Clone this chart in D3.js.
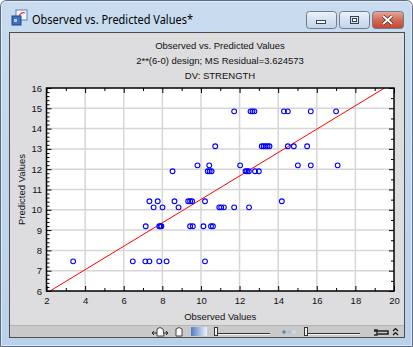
<!DOCTYPE html>
<html><head><meta charset="utf-8">
<script src="https://cdn.jsdelivr.net/npm/d3@7"></script>
<style>body{margin:0;background:#fff;overflow:hidden}svg{display:block}</style>
</head><body>
<script>
// ---- data ----
const windowTitle = "Observed vs. Predicted Values*";
const titleLines = ["Observed vs. Predicted Values", "2**(6-0) design; MS Residual=3.624573", "DV: STRENGTH"];
const xLabel = "Observed Values";
const yLabel = "Predicted Values";
const xTicks = [2, 4, 6, 8, 10, 12, 14, 16, 18, 20];
const yTicks = [6, 7, 8, 9, 10, 11, 12, 13, 14, 15, 16];
const observed = [
  11.72, 12.57, 12.67, 12.77, 14.30, 14.50, 15.69, 17.00,
  10.74, 13.15, 13.25, 13.35, 13.45, 13.55, 14.50, 14.81, 15.50,
  9.82, 10.43, 12.03, 15.02, 15.69, 17.08,
  8.53, 10.35, 10.45, 10.55, 12.31, 12.39, 12.48, 12.80, 13.00,
  7.33, 7.76, 8.63, 9.34, 9.44, 9.54, 10.21, 14.19,
  7.55, 8.01, 8.84, 10.95, 11.05, 11.19, 11.72, 12.49,
  7.14, 7.84, 7.90, 7.95, 9.44, 9.58, 10.13, 10.52, 10.62,
  3.38, 6.47, 7.12, 7.33, 7.84, 8.22, 10.21
];
const predicted = [
  14.85, 14.85, 14.85, 14.85, 14.85, 14.85, 14.85, 14.85,
  13.13, 13.13, 13.13, 13.13, 13.13, 13.13, 13.13, 13.13, 13.13,
  12.19, 12.19, 12.19, 12.19, 12.19, 12.19,
  11.90, 11.90, 11.90, 11.90, 11.90, 11.90, 11.90, 11.90, 11.90,
  10.42, 10.42, 10.42, 10.42, 10.42, 10.42, 10.42, 10.42,
  10.12, 10.12, 10.12, 10.12, 10.12, 10.12, 10.12, 10.12,
  9.19, 9.19, 9.19, 9.19, 9.19, 9.19, 9.19, 9.19, 9.19,
  7.46, 7.46, 7.46, 7.46, 7.46, 7.46, 7.46
];
const fitLine = [4.742, 0.577]; // intercept, slope

// ---- layout ----
const W = 413, H = 347;
const svg = d3.select("body").append("svg").attr("width", W).attr("height", H);
const defs = svg.append("defs");

const frameG = defs.append("linearGradient").attr("id", "frame").attr("x1", 0).attr("y1", 0).attr("x2", 0).attr("y2", 1);
frameG.append("stop").attr("offset", 0).attr("stop-color", "#c9dcef");
frameG.append("stop").attr("offset", 1).attr("stop-color", "#b9d1ea");
const btnG = defs.append("linearGradient").attr("id", "btn").attr("x1", 0).attr("y1", 0).attr("x2", 0).attr("y2", 1);
btnG.append("stop").attr("offset", 0).attr("stop-color", "#edf2f9");
btnG.append("stop").attr("offset", 0.5).attr("stop-color", "#d5e1f0");
btnG.append("stop").attr("offset", 1).attr("stop-color", "#c3d4ea");
const closeG = defs.append("linearGradient").attr("id", "close").attr("x1", 0).attr("y1", 0).attr("x2", 0).attr("y2", 1);
closeG.append("stop").attr("offset", 0).attr("stop-color", "#e9a99b");
closeG.append("stop").attr("offset", 0.5).attr("stop-color", "#d46a55");
closeG.append("stop").attr("offset", 1).attr("stop-color", "#c2452f");
const colG = defs.append("linearGradient").attr("id", "colbar").attr("x1", 0).attr("y1", 0).attr("x2", 1).attr("y2", 0);
colG.append("stop").attr("offset", 0).attr("stop-color", "#4f7fc2");
colG.append("stop").attr("offset", 1).attr("stop-color", "#eef2fa");

// window frame
svg.append("path")
  .attr("d", `M0.5,${H - 0.5} L0.5,7 Q0.5,0.5 7,0.5 L${W - 7},0.5 Q${W - 0.5},0.5 ${W - 0.5},7 L${W - 0.5},${H - 0.5} Z`)
  .attr("fill", "url(#frame)").attr("stroke", "#5e6d80");
svg.append("path")
  .attr("d", `M1.5,${H - 1.5} L1.5,7 Q1.5,1.5 7,1.5 L${W - 7},1.5 Q${W - 1.5},1.5 ${W - 1.5},7 L${W - 1.5},${H - 1.5} Z`)
  .attr("fill", "none").attr("stroke", "#e4eef9").attr("stroke-opacity", 0.8);

// icon
const ic = svg.append("g").attr("transform", "translate(12,10)");
ic.append("rect").attr("x", 4).attr("y", 0).attr("width", 11).attr("height", 10).attr("fill", "#f4f8fc").attr("stroke", "#5c7fb3");
ic.append("path").attr("d", "M6,8 Q9,1 13,3").attr("fill", "none").attr("stroke", "#e03030").attr("stroke-width", 1.2);
ic.append("rect").attr("x", 0).attr("y", 6).attr("width", 9).attr("height", 9).attr("fill", "#3f6fc0").attr("stroke", "#23448a");
ic.append("rect").attr("x", 2).attr("y", 9).attr("width", 3).attr("height", 3).attr("fill", "#a8d0f0");

svg.append("text").attr("x", 32).attr("y", 24).text(windowTitle)
  .attr("font-family", "'Noto Sans', 'DejaVu Sans', sans-serif").attr("font-size", 12.5)
  .attr("textLength", 161).attr("lengthAdjust", "spacingAndGlyphs").attr("fill", "#000");

// buttons
function btn(x, w, fillId) {
  svg.append("rect").attr("x", x + 0.5).attr("y", 11.5).attr("width", w).attr("height", 17).attr("rx", 3)
    .attr("fill", `url(#${fillId})`).attr("stroke", "#6d7c92");
}
btn(306, 30, "btn"); btn(339, 30, "btn"); btn(372, 31, "close");
svg.append("rect").attr("x", 316.5).attr("y", 20.5).attr("width", 9).attr("height", 3).attr("fill", "#fff").attr("stroke", "#34445c");
svg.append("rect").attr("x", 350.5).attr("y", 16.5).attr("width", 8).attr("height", 7).attr("fill", "none").attr("stroke", "#34445c");
svg.append("rect").attr("x", 352.5).attr("y", 18.5).attr("width", 4).attr("height", 3).attr("fill", "#fff").attr("stroke", "#34445c");
svg.append("path").attr("d", "M383,16 L392,24 M392,16 L383,24").attr("stroke", "#4a1a10").attr("stroke-width", 3.2);
svg.append("path").attr("d", "M383,16 L392,24 M392,16 L383,24").attr("stroke", "#fff").attr("stroke-width", 2);

// client area
svg.append("rect").attr("x", 9.5).attr("y", 32.5).attr("width", 395).attr("height", 305).attr("fill", "#dddcde").attr("stroke", "#4d4d4d");
// toolbar
svg.append("rect").attr("x", 10).attr("y", 326).attr("width", 394).attr("height", 11).attr("fill", "#c9c9c9");
svg.append("line").attr("x1", 10).attr("x2", 404).attr("y1", 325.5).attr("y2", 325.5).attr("stroke", "#b5b5b5");

const tb = svg.append("g").attr("fill", "none");
// hand with arrows
tb.append("path").attr("d", "M152,333 L168,333 M152,333 l2,-2 M152,333 l2,2 M168,333 l-2,-2 M168,333 l-2,2").attr("stroke", "#222");
tb.append("path").attr("d", "M157,336 L157,329 Q160,326 163,329 L164,336 Z").attr("fill", "#fff").attr("stroke", "#444");
tb.append("path").attr("d", "M176,336 L176,329 Q179,326 182,329 L182,336 Z").attr("fill", "#fff").attr("stroke", "#444");
tb.append("rect").attr("x", 191).attr("y", 327).attr("width", 16).attr("height", 9).attr("fill", "url(#colbar)");
function slider(x0, x1) {
  tb.append("line").attr("x1", x0).attr("x2", x1).attr("y1", 333.5).attr("y2", 333.5).attr("stroke", "#333");
  tb.append("line").attr("x1", x0).attr("x2", x1).attr("y1", 334.5).attr("y2", 334.5).attr("stroke", "#f4f4f4");
  tb.append("rect").attr("x", x0 - 3.5).attr("y", 327.5).attr("width", 3).attr("height", 8).attr("fill", "#f0f0f0").attr("stroke", "#333");
}
slider(218, 270); slider(308, 360);
[[284, "#5a84c0"], [289, "#a9c0e0"], [294, "#d2dcee"]].forEach(d => tb.append("circle").attr("cx", d[0]).attr("cy", 332).attr("r", 1.8).attr("fill", d[1]));
tb.append("path").attr("d", "M374,331 L388,331 L388,334 L378,334 M374,330 l3,0 l0,5 l-3,0").attr("stroke", "#222").attr("stroke-width", 1.5);
tb.append("path").attr("d", "M393,331 l2.5,-2.5 l2.5,2.5 M393,335 l2.5,-2.5 l2.5,2.5").attr("stroke", "#111").attr("stroke-width", 1.2);

// ---- chart ----
const x = d3.scaleLinear().domain([2, 20]).range([46.5, 394]);
const y = d3.scaleLinear().domain([6, 16]).range([291, 88]);
const fontF = "'Liberation Sans', Arial, sans-serif";

const tg = svg.append("g").attr("font-family", fontF).attr("font-size", 9.5).attr("fill", "#111").attr("text-anchor", "middle");
titleLines.forEach((t, i) => tg.append("text").attr("x", 220).attr("y", 48.5 + i * 15).text(t));

svg.append("rect").attr("x", x(2)).attr("y", y(16)).attr("width", x(20) - x(2)).attr("height", y(6) - y(16)).attr("fill", "#fff");

const grid = svg.append("g").attr("stroke", "#d6d6d6").attr("stroke-width", 1.5);
xTicks.slice(1, -1).forEach(v => grid.append("line").attr("x1", x(v)).attr("x2", x(v)).attr("y1", y(6)).attr("y2", y(16)));
yTicks.slice(1, -1).forEach(v => grid.append("line").attr("y1", y(v)).attr("y2", y(v)).attr("x1", x(2)).attr("x2", x(20)));

defs.append("clipPath").attr("id", "plotclip").append("rect")
  .attr("x", x(2)).attr("y", y(16)).attr("width", x(20) - x(2)).attr("height", y(6) - y(16));

const xs = [(6 - fitLine[0]) / fitLine[1], (16 - fitLine[0]) / fitLine[1]];
svg.append("line").attr("clip-path", "url(#plotclip)")
  .attr("x1", x(xs[0])).attr("y1", y(fitLine[0] + fitLine[1] * xs[0]))
  .attr("x2", x(xs[1])).attr("y2", y(fitLine[0] + fitLine[1] * xs[1]))
  .attr("stroke", "#ff0000").attr("stroke-width", 1);

svg.append("g").selectAll("circle").data(observed.map((o, i) => [o, predicted[i]])).join("circle")
  .attr("cx", d => x(d[0])).attr("cy", d => y(d[1])).attr("r", 2.4)
  .attr("fill", "none").attr("stroke", "#0000ff").attr("stroke-width", 1.1);

// axes
function styleAxis(g) {
  g.select(".domain").remove();
  g.selectAll("line").attr("stroke", "#000");
  g.selectAll("text").attr("font-family", fontF).attr("font-size", 9.5).attr("fill", "#111");
}
const minorX = d3.range(3, 20, 2);
const minorYL = d3.range(6, 16.001, 0.2).filter(v => Math.abs(v - Math.round(v)) > 0.01);
const minorYR = d3.range(6.5, 16, 1);

svg.append("g").attr("transform", `translate(0,${y(6)})`)
  .call(d3.axisBottom(x).tickValues(xTicks).tickSizeInner(-5).tickSizeOuter(0).tickPadding(6).tickFormat(d3.format("d"))).call(styleAxis);
svg.append("g").attr("transform", `translate(0,${y(6)})`)
  .call(d3.axisBottom(x).tickValues(minorX).tickSizeInner(-3).tickSizeOuter(0).tickFormat("")).call(styleAxis);
svg.append("g").attr("transform", `translate(0,${y(16)})`)
  .call(d3.axisTop(x).tickValues(xTicks).tickSizeInner(-5).tickSizeOuter(0).tickFormat("")).call(styleAxis);
svg.append("g").attr("transform", `translate(0,${y(16)})`)
  .call(d3.axisTop(x).tickValues(minorX).tickSizeInner(-3).tickSizeOuter(0).tickFormat("")).call(styleAxis);
svg.append("g").attr("transform", `translate(${x(2)},0)`)
  .call(d3.axisLeft(y).tickValues(yTicks).tickSizeInner(-5).tickSizeOuter(0).tickPadding(4.5).tickFormat(d3.format("d"))).call(styleAxis);
svg.append("g").attr("transform", `translate(${x(2)},0)`)
  .call(d3.axisLeft(y).tickValues(minorYL).tickSizeInner(-3).tickSizeOuter(0).tickFormat("")).call(styleAxis);
svg.append("g").attr("transform", `translate(${x(20)},0)`)
  .call(d3.axisRight(y).tickValues(yTicks).tickSizeInner(-5).tickSizeOuter(0).tickFormat("")).call(styleAxis);
svg.append("g").attr("transform", `translate(${x(20)},0)`)
  .call(d3.axisRight(y).tickValues(minorYR).tickSizeInner(-3).tickSizeOuter(0).tickFormat("")).call(styleAxis);

svg.append("rect").attr("x", x(2)).attr("y", y(16)).attr("width", x(20) - x(2)).attr("height", y(6) - y(16))
  .attr("fill", "none").attr("stroke", "#000").attr("stroke-width", 1.5);

svg.append("text").attr("x", (x(2) + x(20)) / 2).attr("y", 320).attr("text-anchor", "middle")
  .attr("font-family", fontF).attr("font-size", 9.5).attr("fill", "#111").text(xLabel);
svg.append("text").attr("transform", `translate(25,${(y(6) + y(16)) / 2}) rotate(-90)`).attr("text-anchor", "middle")
  .attr("font-family", fontF).attr("font-size", 9.5).attr("fill", "#111").text(yLabel);
</script>
</body></html>
